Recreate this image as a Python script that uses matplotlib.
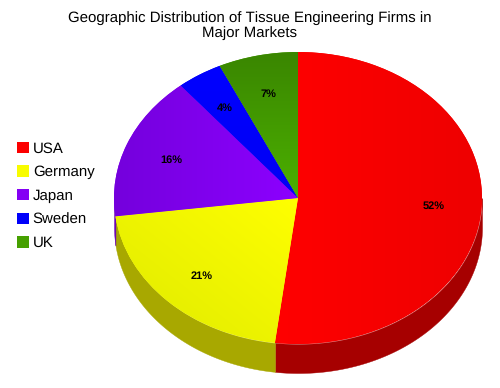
import numpy as np
import matplotlib
matplotlib.use("Agg")
import matplotlib.pyplot as plt
from matplotlib.colors import LinearSegmentedColormap
from matplotlib.patches import Patch

title = "Geographic Distribution of Tissue Engineering Firms in\nMajor Markets"
categories = ["USA", "Germany", "Japan", "Sweden", "UK"]
shares = [52, 21, 16, 4, 7]
base_colors = ["#fc0000", "#f8fc00", "#8400f4", "#0000fa", "#46a000"]
wall_colors = ["#a60000", "#a8a800", "#6a00b0", "#0000a0", "#2c6a00"]
# gradient end colours and their direction (dx, dy)
grad_from = ["#ff0000", "#ffff00", "#8c00ff", "#0000ff", "#3a8600"]
grad_to = ["#ee0000", "#e8f000", "#7400dc", "#0000f4", "#4cb000"]
grad_dir = [(1, 0), (-1, -1), (-1, 0), (0, -1), (0, -1)]

W, H = 500, 388
cx, cy, rx, ry, depth = 298, 198, 184, 146, 29

plt.rcParams["font.family"] = ["Liberation Sans", "DejaVu Sans"]
plt.rcParams["text.hinting"] = "no_hinting"
plt.rcParams["text.hinting_factor"] = 1
fig = plt.figure(figsize=(W / 100, H / 100), dpi=100, facecolor="white")
ax = fig.add_axes([0, 0, 1, 1])

wedges, texts, autotexts = ax.pie(
    shares, colors=base_colors, startangle=90, counterclock=False,
    autopct=lambda p: f"{round(p):d}%", pctdistance=0.74,
    textprops={"fontsize": 8.2, "fontweight": "bold", "color": "black"},
    wedgeprops={"linewidth": 0},
)
for label in autotexts:
    lx, ly = label.get_position()
    label.set_position((lx, ly - 1.5 / ry))

yy, xx = np.mgrid[1:-1:300j, -1:1:300j]
for wedge, c0, c1, (dx, dy), wall in zip(wedges, grad_from, grad_to, grad_dir, wall_colors):
    field = xx * dx + yy * dy
    verts = wedge.get_patch_transform().transform(wedge.get_path().vertices)
    proj = verts[:, 0] * dx + verts[:, 1] * dy
    cmap = LinearSegmentedColormap.from_list("g", [c0, c1])
    im = ax.imshow(field, extent=(-1, 1, -1, 1), cmap=cmap, aspect="auto",
                   vmin=proj.min(), vmax=proj.max(),
                   interpolation="bilinear", zorder=1.5)
    im.set_clip_path(wedge)
    t = np.radians(np.linspace(wedge.theta1, wedge.theta2, 1500))
    m = np.sin(t) <= 0
    if m.any():
        ax.fill_between(np.cos(t[m]), np.sin(t[m]), np.sin(t[m]) - depth / ry,
                        color=wall, linewidth=0.3, zorder=0.5)

ax.set_aspect("auto")
ax.set_xlim(-cx / rx, (W - cx) / rx)
ax.set_ylim(-(H - cy) / ry, cy / ry)
ax.axis("off")

fig.text(0.5, 1 - 25.5 / H, title, ha="center", va="center", fontsize=10.7,
         linespacing=1.14, color="black")

handles = [Patch(facecolor=c, edgecolor="none") for c in base_colors]
fig.legend(handles, categories, loc="center left", bbox_to_anchor=(17 / W, 1 - 196 / H),
           frameon=False, fontsize=10.8, handlelength=0.8, handleheight=0.8,
           handletextpad=0.25, labelspacing=0.64, borderpad=0, borderaxespad=0)

fig.savefig("out.png", dpi=100)
